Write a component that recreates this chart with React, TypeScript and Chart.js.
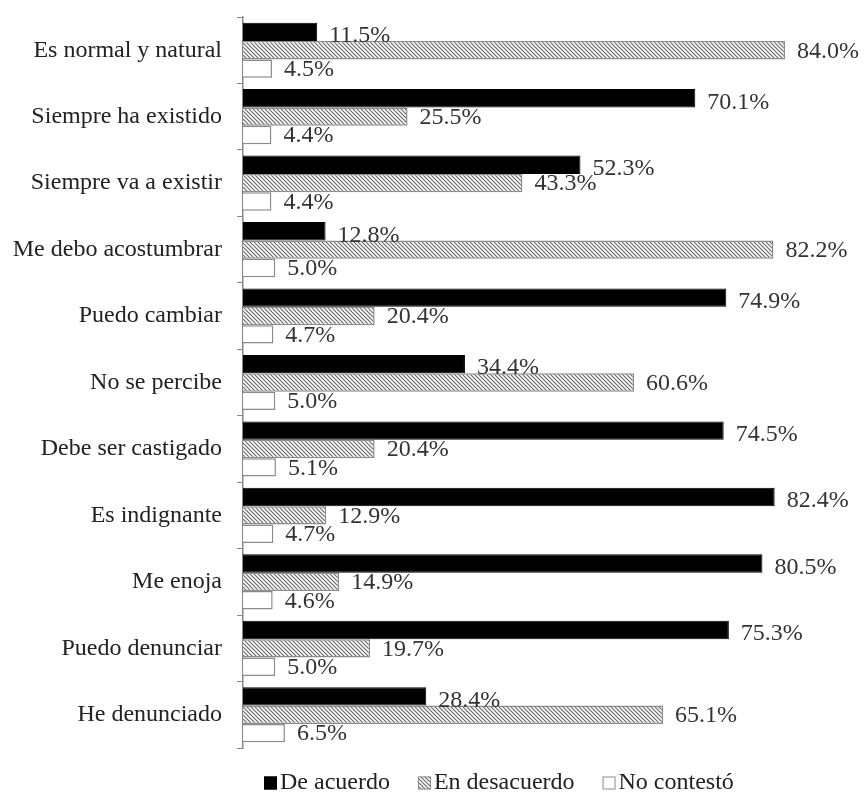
import React, { useEffect, useRef } from "react";
import { Chart, registerables } from "chart.js";

Chart.register(...registerables);

const categories = [
  "Es normal y natural",
  "Siempre ha existido",
  "Siempre va a existir",
  "Me debo acostumbrar",
  "Puedo cambiar",
  "No se percibe",
  "Debe ser castigado",
  "Es indignante",
  "Me enoja",
  "Puedo denunciar",
  "He denunciado",
];
const deAcuerdo = [11.5, 70.1, 52.3, 12.8, 74.9, 34.4, 74.5, 82.4, 80.5, 75.3, 28.4];
const enDesacuerdo = [84.0, 25.5, 43.3, 82.2, 20.4, 60.6, 20.4, 12.9, 14.9, 19.7, 65.1];
const noContesto = [4.5, 4.4, 4.4, 5.0, 4.7, 5.0, 5.1, 4.7, 4.6, 5.0, 6.5];
const seriesNames = ["De acuerdo", "En desacuerdo", "No contestó"];

const FONT = '"Liberation Serif", "Times New Roman", serif';

function makeHatch(): CanvasPattern | string {
  const c = document.createElement("canvas");
  c.width = 4;
  c.height = 4;
  const g = c.getContext("2d");
  if (!g) return "#aaa";
  g.fillStyle = "#ffffff";
  g.fillRect(0, 0, 4, 4);
  g.strokeStyle = "#6a6a6a";
  g.lineWidth = 1.2;
  g.beginPath();
  g.moveTo(-1, -1);
  g.lineTo(5, 5);
  g.moveTo(3, -1);
  g.lineTo(5, 1);
  g.moveTo(-1, 3);
  g.lineTo(1, 5);
  g.stroke();
  const p = g.createPattern(c, "repeat");
  return p || "#aaa";
}

const valueLabels = {
  id: "valueLabels",
  afterDatasetsDraw(chart: any) {
    const ctx = chart.ctx;
    ctx.save();
    ctx.font = `24px ${FONT}`;
    ctx.fillStyle = "#333";
    ctx.textAlign = "left";
    ctx.textBaseline = "middle";
    chart.data.datasets.forEach((ds: any, di: number) => {
      const meta = chart.getDatasetMeta(di);
      meta.data.forEach((bar: any, i: number) => {
        const v = ds.data[i];
        ctx.fillText(v.toFixed(1) + "%", bar.x + 12, bar.y + (di === 0 ? 4 : 1));
      });
    });
    ctx.restore();
  },
};

const customLegend = {
  id: "customLegend",
  afterDraw(chart: any) {
    const ctx = chart.ctx;
    ctx.save();
    ctx.font = `24px ${FONT}`;
    ctx.textBaseline = "middle";
    ctx.textAlign = "left";
    const y = 783;
    const box = 13;
    let x = 264;
    chart.data.datasets.forEach((ds: any) => {
      ctx.fillStyle = ds.backgroundColor;
      ctx.fillRect(x, y - box / 2, box, box);
      ctx.strokeStyle = ds.borderColor;
      ctx.lineWidth = 1;
      ctx.strokeRect(x + 0.5, y - box / 2 + 0.5, box - 1, box - 1);
      ctx.fillStyle = "#222";
      ctx.fillText(ds.label, x + box + 3, y);
      x += box + 3 + ctx.measureText(ds.label).width + 28;
    });
    ctx.restore();
  },
};

export default function App() {
  const ref = useRef<HTMLCanvasElement>(null);
  useEffect(() => {
    if (!ref.current) return;
    const hatch = makeHatch();
    const chart = new Chart(ref.current, {
      type: "bar",
      data: {
        labels: categories,
        datasets: [
          {
            label: seriesNames[0],
            data: deAcuerdo,
            backgroundColor: "#000",
            borderColor: "#000",
            borderWidth: 1,
          },
          {
            label: seriesNames[1],
            data: enDesacuerdo,
            backgroundColor: hatch as any,
            borderColor: "#8c8c8c",
            borderWidth: 1.5,
          },
          {
            label: seriesNames[2],
            data: noContesto,
            backgroundColor: "#fff",
            borderColor: "#8c8c8c",
            borderWidth: 1.5,
          },
        ],
      },
      options: {
        indexAxis: "y",
        animation: false,
        responsive: false,
        layout: { padding: { top: 17, right: 0, left: 0, bottom: 44 } },
        datasets: {
          bar: { categoryPercentage: 0.83, barPercentage: 1 },
        },
        scales: {
          x: {
            min: 0,
            max: 96.4,
            display: false,
          },
          y: {
            afterFit(scale: any) {
              scale.width = 243;
              scale.paddingTop = 0;
              scale.paddingBottom = 0;
            },
            grid: {
              display: true,
              drawOnChartArea: false,
              offset: true,
              tickLength: 6,
              color: "#888",
            },
            border: { display: true, color: "#888", width: 1.5 },
            ticks: {
              font: { family: FONT, size: 24 },
              color: "#222",
              padding: 15,
            },
          },
        },
        plugins: {
          legend: { display: false },
          tooltip: { enabled: false },
        },
      },
      plugins: [valueLabels, customLegend],
    });
    return () => chart.destroy();
  }, []);
  return (
    <canvas
      ref={ref}
      width={865}
      height={792}
      style={{ display: "block", position: "absolute", left: 0, top: 0 }}
    />
  );
}
